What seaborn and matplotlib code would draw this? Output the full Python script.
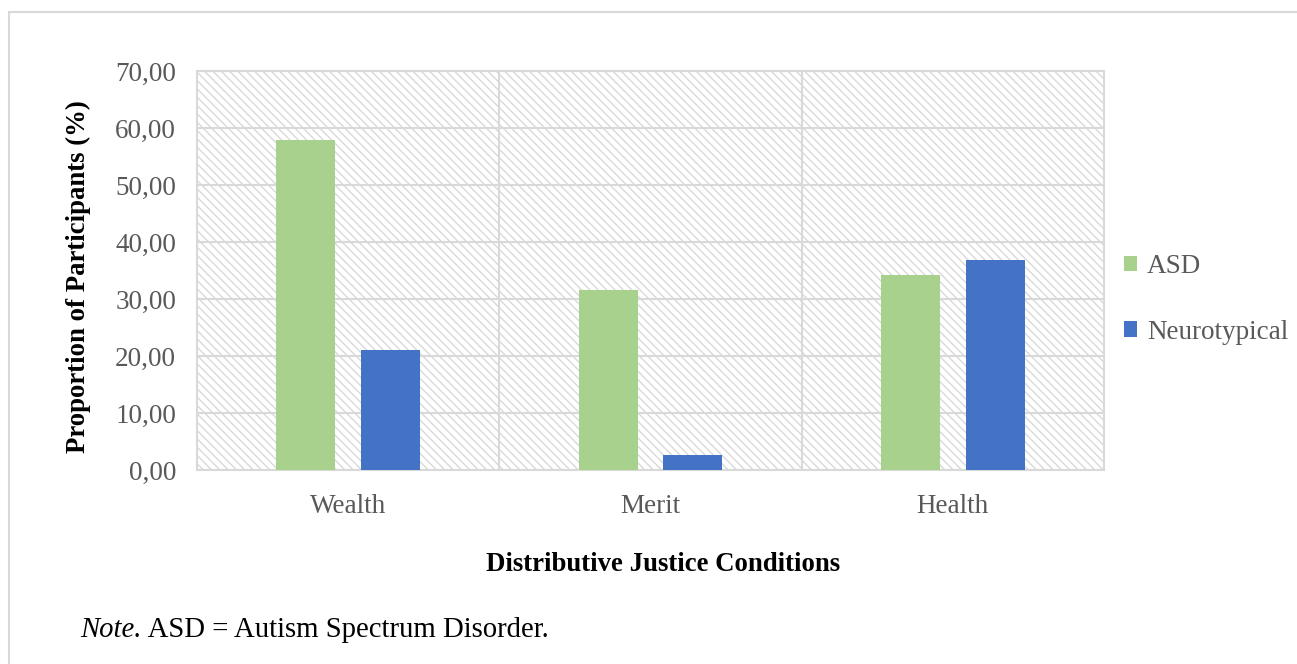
import pandas as pd
import seaborn as sns
import matplotlib.pyplot as plt
from matplotlib.patches import Rectangle, Patch
from matplotlib.ticker import FuncFormatter

conditions = ["Wealth", "Merit", "Health"]
groups = ["ASD", "Neurotypical"]
asd = [57.89, 31.58, 34.21]
neurotypical = [21.05, 2.63, 36.84]
yticks = [0, 10, 20, 30, 40, 50, 60, 70]

colors = {"ASD": "#a9d18e", "Neurotypical": "#4472c4"}

df = pd.DataFrame({
    "condition": conditions * 2,
    "group": ["ASD"] * 3 + ["Neurotypical"] * 3,
    "value": asd + neurotypical,
})

sns.set_theme(style="white")
plt.rcParams["font.family"] = ["Liberation Serif", "DejaVu Serif"]
plt.rcParams["hatch.linewidth"] = 1.0

fig = plt.figure(figsize=(12.97, 6.64), dpi=100)
ax = fig.add_axes([197 / 1297, 194 / 664, 907 / 1297, 399 / 664])

# hatched plot area like the Excel original
ax.add_patch(Rectangle((0, 0), 1, 1, transform=ax.transAxes, facecolor="white",
                       edgecolor="#d9d9d9", hatch="\\\\\\\\", lw=0, zorder=0.1))

sns.barplot(data=df, x="condition", y="value", hue="group", order=conditions,
            hue_order=groups, palette=colors, saturation=1, width=0.56, gap=0.3,
            linewidth=0, legend=False, ax=ax, zorder=3)

ax.set_xlim(-0.5, 2.5)
ax.set_ylim(0, 70)
ax.set_yticks(yticks)
ax.yaxis.set_major_formatter(FuncFormatter(lambda v, p: f"{v:.2f}".replace(".", ",")))
ax.grid(axis="y", color="#d9d9d9", lw=1.5, zorder=1)
for xv in [0.5, 1.5]:
    ax.axvline(xv, color="#d9d9d9", lw=1.5, zorder=1)
for s in ax.spines.values():
    s.set_color("#d9d9d9")
    s.set_linewidth(1.5)
ax.tick_params(axis="both", length=0, labelsize=19.5, labelcolor="#595959")
ax.tick_params(axis="x", pad=17)
ax.tick_params(axis="y", pad=15)

ax.set_xlabel("Distributive Justice Conditions", fontsize=19.3, fontweight="bold", color="black")
ax.set_ylabel("Proportion of Participants (%)", fontsize=19.3, fontweight="bold", color="black")
ax.xaxis.set_label_coords(0.5143, -0.2055)
ax.yaxis.set_label_coords(-0.1167, 0.485)

handles = [Patch(facecolor=colors[g], edgecolor="none", label=g) for g in groups]
leg = ax.legend(handles=handles, loc="center left", bbox_to_anchor=(1.01, 0.428),
                frameon=False, fontsize=19.5, handlelength=0.5, handleheight=0.5,
                handletextpad=0.35, labelspacing=1.5, borderaxespad=0)
for t in leg.get_texts():
    t.set_color("#595959")

# outer chart border
fig.patches.append(Rectangle((9 / 1297, -0.1), 1.2, (664 - 12) / 664 + 0.1,
                             transform=fig.transFigure, fill=False,
                             edgecolor="#d9d9d9", lw=1.5))

note = fig.text(80 / 1297, 27 / 664, "Note.", fontsize=20.7, style="italic",
                va="baseline", color="black")
fig.canvas.draw()
ax.annotate(" ASD = Autism Spectrum Disorder.", xy=(1, 0), xycoords=note,
            va="bottom", fontsize=20.7, color="black", annotation_clip=False)

fig.savefig("out.png", dpi=100)
